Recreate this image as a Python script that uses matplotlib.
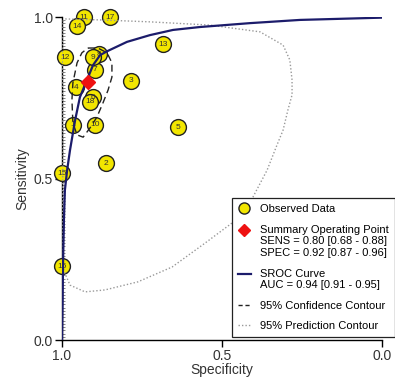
import matplotlib.pyplot as plt
from matplotlib.lines import Line2D
from matplotlib.legend_handler import HandlerLine2D

plt.rcParams['font.family'] = ['Liberation Sans', 'DejaVu Sans']

# study estimates (specificity, sensitivity)
study_ids = list(range(1, 19))
spec = [0.966, 0.862, 0.784, 0.956, 0.638, 0.903, 0.897, 0.884, 0.903,
        0.897, 0.931, 0.990, 0.684, 0.953, 1.000, 1.000, 0.850, 0.912]
sens = [0.666, 0.548, 0.802, 0.783, 0.659, 0.752, 0.836, 0.885, 0.876,
        0.666, 1.000, 0.876, 0.916, 0.972, 0.517, 0.229, 1.000, 0.737]

# summary operating point
sum_spec = 0.92
sum_sens = 0.80

# SROC curve
sroc_spec = [1.0, 0.998, 0.997, 0.994, 0.991, 0.984, 0.975, 0.959, 0.944, 0.922,
             0.903, 0.881, 0.859, 0.797, 0.725, 0.653, 0.569, 0.413, 0.256, 0.0]
sroc_sens = [0.0, 0.124, 0.229, 0.372, 0.464, 0.526, 0.588, 0.681, 0.752, 0.805,
             0.851, 0.882, 0.894, 0.923, 0.944, 0.960, 0.969, 0.981, 0.991, 0.998]

# 95% confidence contour
conf_spec = [0.919, 0.888, 0.859, 0.844, 0.844, 0.856, 0.872, 0.891, 0.913, 0.934,
             0.953, 0.966, 0.969, 0.966, 0.953, 0.938, 0.919]
conf_sens = [0.904, 0.904, 0.889, 0.858, 0.814, 0.774, 0.734, 0.690, 0.656, 0.628,
             0.635, 0.672, 0.743, 0.796, 0.858, 0.889, 0.904]

# 95% prediction contour
pred_spec = [1.0, 0.991, 0.975, 0.928, 0.866, 0.763, 0.656, 0.553, 0.469, 0.434,
             0.403, 0.359, 0.328, 0.309, 0.294, 0.281, 0.281, 0.288, 0.309, 0.381,
             0.538, 0.725, 0.881, 0.988, 1.0, 0.997, 1.0]
pred_sens = [0.241, 0.207, 0.170, 0.149, 0.155, 0.180, 0.226, 0.300, 0.362, 0.402,
             0.443, 0.526, 0.604, 0.650, 0.712, 0.759, 0.805, 0.867, 0.913, 0.954,
             0.975, 0.985, 0.991, 0.994, 0.985, 0.588, 0.241]


class FirstLineHandler(HandlerLine2D):
    # put the legend symbol next to the first line of a multi-line label
    def __init__(self, shift, **kw):
        super().__init__(**kw)
        self.shift = shift

    def create_artists(self, legend, orig_handle, xdescent, ydescent,
                       width, height, fontsize, trans):
        arts = super().create_artists(legend, orig_handle, xdescent, ydescent,
                                      width, height, fontsize, trans)
        for a in arts:
            a.set_ydata([y + self.shift for y in a.get_ydata()])
        return arts


fig = plt.figure(figsize=(3.95, 3.78), dpi=100)
ax = fig.add_axes([0.157, 0.1005, 0.81, 0.8545])

ax.scatter(spec, sens, s=130, c='#f2e600', edgecolors='#222222', linewidths=1.0,
           zorder=3, clip_on=False)
for i, x, y in zip(study_ids, spec, sens):
    ax.text(x, y, str(i), fontsize=6, ha='center', va='center', color='#333333',
            zorder=3, clip_on=False)

ax.plot(pred_spec, pred_sens, color='#999999', linestyle=(0, (1, 1.5)), lw=1.0, zorder=4)
ax.plot(conf_spec, conf_sens, color='#222222', linestyle=(0, (5, 3)), lw=1.0, zorder=4)
ax.plot(sroc_spec, sroc_sens, color='#1c1c6b', lw=1.6, zorder=5)
ax.plot([sum_spec], [sum_sens], marker='D', color='#ee1111', markersize=7, ls='none', zorder=6)

ax.set_xlim(1.0, 0.0)
ax.set_ylim(0.0, 1.0)
ax.set_xticks([1.0, 0.5, 0.0])
ax.set_yticks([0.0, 0.5, 1.0])
ax.set_xticklabels(['1.0', '0.5', '0.0'])
ax.set_yticklabels(['0.0', '0.5', '1.0'])
ax.set_yticks([i / 100 for i in range(101)], minor=True)
ax.tick_params(axis='y', which='minor', direction='in', length=2, width=0.5, color='#555555')
ax.tick_params(axis='both', which='major', direction='out', length=5, width=1.0,
               labelsize=10, labelcolor='#333333', pad=1.5)
ax.spines['top'].set_visible(False)
ax.spines['right'].set_visible(False)
ax.spines['left'].set_linewidth(1.0)
ax.spines['bottom'].set_linewidth(1.0)
ax.set_xlabel('Specificity', fontsize=10, color='#333333', labelpad=0)
ax.set_ylabel('Sensitivity', fontsize=10, color='#333333', labelpad=3)

h_obs = Line2D([], [], marker='o', ls='none', markerfacecolor='#f2e600',
               markeredgecolor='#222222', markersize=8)
h_sum = Line2D([], [], marker='D', ls='none', color='#ee1111', markersize=6)
h_sroc = Line2D([], [], color='#1c1c6b', lw=1.6)
h_conf = Line2D([], [], color='#222222', lw=1.0, linestyle=(0, (3, 2)))
h_pred = Line2D([], [], color='#999999', lw=1.0, linestyle=(0, (1, 1.5)))
handles = [h_obs, h_sum, h_sroc, h_conf, h_pred]
labels = [
    'Observed Data',
    'Summary Operating Point\nSENS = 0.80 [0.68 - 0.88]\nSPEC = 0.92 [0.87 - 0.96]',
    'SROC Curve\nAUC = 0.94 [0.91 - 0.95]',
    '95% Confidence Contour',
    '95% Prediction Contour',
]
leg = ax.legend(handles, labels, loc='lower left', bbox_to_anchor=(0.53, 0.008),
                fontsize=8, frameon=True, fancybox=False, framealpha=1,
                edgecolor='#222222', handlelength=1.2, handletextpad=0.8,
                labelspacing=0.95, borderpad=0.55, borderaxespad=0,
                handler_map={h_sum: FirstLineHandler(8.2),
                             h_sroc: FirstLineHandler(4.1)})
leg.get_frame().set_linewidth(0.9)
leg.set_zorder(10)

fig.savefig('out.png', dpi=100)
